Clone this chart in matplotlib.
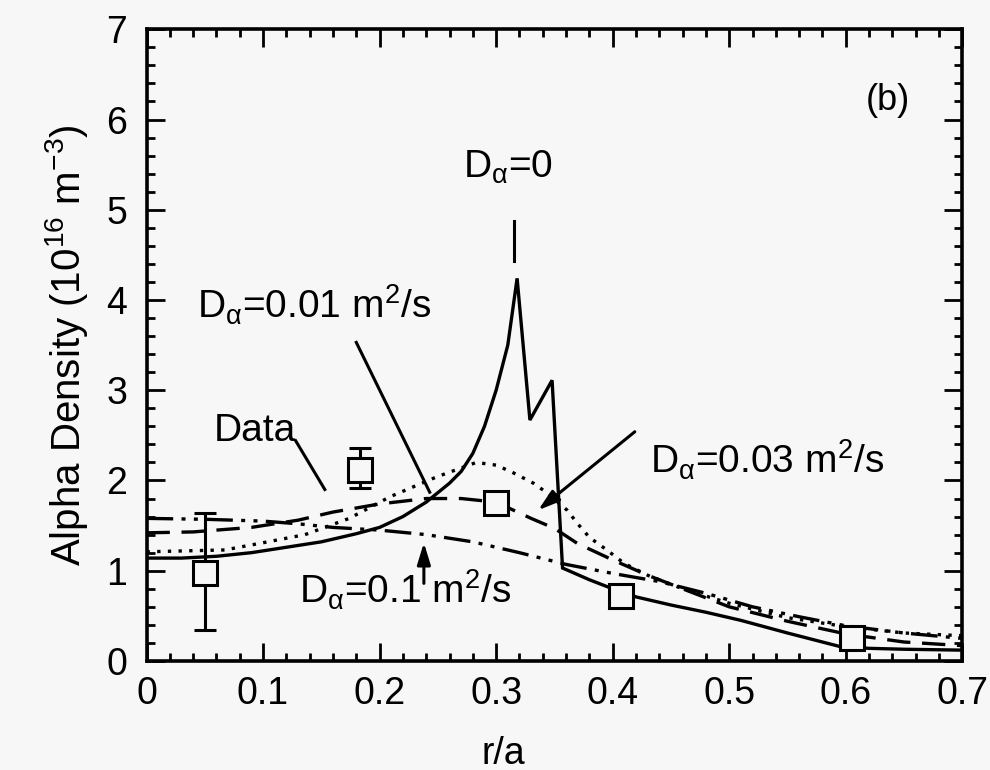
import matplotlib
matplotlib.use("Agg")
import matplotlib.pyplot as plt
from matplotlib.ticker import MultipleLocator, FuncFormatter

# ── data ─────────────────────────────────────────────────────────────────────
x_d0 = [0.0, 0.03, 0.06, 0.09, 0.12, 0.15, 0.18, 0.20, 0.22, 0.24, 0.26, 0.27,
        0.28, 0.29, 0.30, 0.31, 0.318, 0.329, 0.348, 0.357, 0.38, 0.40, 0.42,
        0.45, 0.48, 0.51, 0.55, 0.595, 0.62, 0.65, 0.70]
y_d0 = [1.14, 1.14, 1.16, 1.20, 1.26, 1.32, 1.41, 1.48, 1.60, 1.76, 1.97, 2.10,
        2.30, 2.60, 3.00, 3.50, 4.24, 2.67, 3.11, 1.03, 0.90, 0.80, 0.71,
        0.62, 0.54, 0.45, 0.31, 0.16, 0.14, 0.13, 0.12]

x_d001 = [0.0, 0.067, 0.10, 0.136, 0.174, 0.209, 0.249, 0.283, 0.30, 0.314,
          0.332, 0.344, 0.361, 0.37, 0.38, 0.395, 0.41, 0.43, 0.46, 0.50,
          0.55, 0.60, 0.65, 0.70]
y_d001 = [1.21, 1.23, 1.31, 1.40, 1.58, 1.82, 2.04, 2.20, 2.17, 2.09,
          1.97, 1.86, 1.67, 1.52, 1.37, 1.23, 1.08, 0.95, 0.80, 0.64,
          0.48, 0.38, 0.31, 0.28]

x_d003 = [0.0, 0.04, 0.09, 0.13, 0.16, 0.20, 0.24, 0.27, 0.30, 0.33, 0.35,
          0.37, 0.40, 0.43, 0.46, 0.50, 0.55, 0.60, 0.65, 0.70]
y_d003 = [1.42, 1.43, 1.48, 1.56, 1.65, 1.74, 1.80, 1.80, 1.76, 1.58, 1.47,
          1.30, 1.12, 0.95, 0.80, 0.60, 0.44, 0.30, 0.21, 0.17]

x_d01 = [0.0, 0.05, 0.10, 0.13, 0.16, 0.20, 0.24, 0.28, 0.32, 0.36, 0.40,
         0.44, 0.48, 0.52, 0.56, 0.60, 0.65, 0.70]
y_d01 = [1.58, 1.57, 1.55, 1.52, 1.48, 1.45, 1.40, 1.32, 1.20, 1.07, 0.97,
         0.88, 0.75, 0.60, 0.49, 0.39, 0.31, 0.25]

data_r = [0.05, 0.183, 0.30, 0.407, 0.605]
data_n = [0.98, 2.12, 1.75, 0.72, 0.25]
data_lo = [0.34, 1.92, None, None, None]
data_hi = [1.64, 2.36, None, None, None]

BG = "#f7f7f7"
plt.rcParams["font.family"] = ["Liberation Sans", "DejaVu Sans"]
plt.rcParams["mathtext.fontset"] = "custom"
plt.rcParams["mathtext.rm"] = "Liberation Sans"
plt.rcParams["mathtext.it"] = "Liberation Sans"
plt.rcParams["mathtext.bf"] = "Liberation Sans:bold"

fig = plt.figure(figsize=(9.9, 7.7), dpi=100, facecolor=BG)
ax = fig.add_axes([0.148, 0.1416, 0.824, 0.8204], facecolor=BG)

lw = 2.4
ax.plot(x_d0, y_d0, color="black", lw=lw, solid_joinstyle="miter")
ax.plot(x_d001, y_d001, color="black", lw=lw, linestyle=(0, (1.0, 2.2)))
ax.plot(x_d003, y_d003, color="black", lw=lw, linestyle=(0, (7, 3.5)))
ax.plot(x_d01, y_d01, color="black", lw=lw,
        linestyle=(0, (8, 2.5, 1.2, 2.5, 1.2, 2.5)))

# data points, error bars where they were measured
for r, n, lo, hi in zip(data_r, data_n, data_lo, data_hi):
    if lo is not None:
        ax.errorbar([r], [n], yerr=[[n - lo], [hi - n]], fmt="none",
                    ecolor="black", elinewidth=2.2, capsize=8, capthick=2.2,
                    zorder=4)
ax.plot(data_r, data_n, "s", ms=17, mfc=BG, mec="black", mew=2.2,
        linestyle="none", zorder=5)

ax.set_xlim(0, 0.7)
ax.set_ylim(0, 7)
ax.xaxis.set_major_locator(MultipleLocator(0.1))
ax.xaxis.set_minor_locator(MultipleLocator(0.02))
ax.yaxis.set_major_locator(MultipleLocator(1))
ax.yaxis.set_minor_locator(MultipleLocator(0.2))
ax.xaxis.set_major_formatter(
    FuncFormatter(lambda v, _: "0" if abs(v) < 1e-9 else f"{v:.1f}"))
ax.tick_params(which="both", direction="in", top=True, right=True,
               width=2.0, labelsize=27)
ax.tick_params(which="major", length=13, pad=11)
ax.tick_params(which="minor", length=6)
ax.tick_params(axis="y", which="major", pad=14)
for s in ax.spines.values():
    s.set_linewidth(2.6)

ax.set_xlabel("r/a", fontsize=27)
ax.xaxis.set_label_coords(0.437, -0.118)
ax.set_ylabel(r"Alpha Density (10$^{16}$ m$^{-3}$)", fontsize=29, labelpad=12)

fs = 28
ax.text(0.636, 6.21, "(b)", fontsize=26, ha="center", va="center")
ax.text(0.31, 5.35, r"D$_{\alpha}$=0", fontsize=fs, ha="center", va="baseline")
ax.plot([0.315, 0.315], [4.88, 4.43], color="black", lw=2.2)

ax.text(0.043, 3.94, r"D$_{\alpha}$=0.01 m$^2$/s", fontsize=fs, va="center")
ax.plot([0.18, 0.243], [3.53, 1.87], color="black", lw=2.2)

ax.text(0.058, 2.55, "Data", fontsize=fs, va="center")
ax.plot([0.128, 0.153], [2.44, 1.90], color="black", lw=2.2)

ax.text(0.432, 2.23, r"D$_{\alpha}$=0.03 m$^2$/s", fontsize=fs, va="center")
ax.annotate("", xy=(0.336, 1.67), xytext=(0.419, 2.54),
            arrowprops=dict(arrowstyle="-|>,head_length=1.3,head_width=0.4",
                            color="black", lw=2.2, shrinkA=0, shrinkB=0))

ax.text(0.131, 0.79, r"D$_{\alpha}$=0.1 m$^2$/s", fontsize=fs, va="center")
ax.annotate("", xy=(0.238, 1.31), xytext=(0.238, 0.86),
            arrowprops=dict(arrowstyle="-|>,head_length=1.3,head_width=0.4",
                            color="black", lw=2.2, shrinkA=0, shrinkB=0))

fig.savefig("out.png", dpi=100, facecolor=BG)
